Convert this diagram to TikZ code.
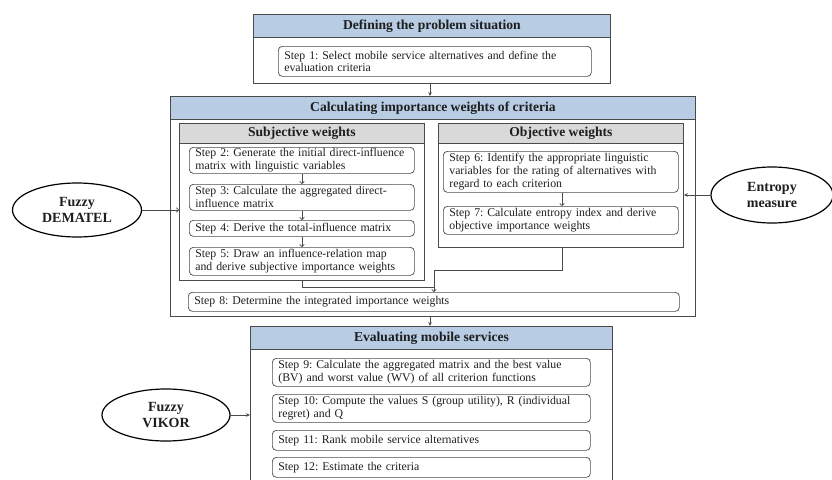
\documentclass[tikz,border=0pt]{standalone}
\usepackage{fontspec}
\setmainfont{Liberation Serif}
\usetikzlibrary{arrows.meta,shapes.geometric}
\definecolor{lineg}{HTML}{4A4A4A}
\definecolor{hblue}{HTML}{B8CCE4}
\definecolor{hgray}{HTML}{D9D9D9}
\definecolor{txt}{HTML}{1E1E1E}
\tikzset{
  box/.style={draw=lineg, line width=0.9pt, anchor=north west, inner sep=0pt},
  mainhead/.style={box, fill=hblue, text=txt, font=\fontsize{13.6}{15}\selectfont\bfseries},
  subhead/.style={box, fill=hgray, text=txt, font=\fontsize{13.6}{15}\selectfont\bfseries},
  stepbox/.style={draw=lineg, line width=0.7pt, rounded corners=4pt, anchor=north west,
     inner xsep=6pt, inner ysep=0pt, align=left, text=txt, font=\fontsize{11.8}{12.8}\selectfont},
  method/.style={draw=black, line width=1.2pt, ellipse, inner sep=0pt, align=center,
     text=txt, font=\fontsize{14}{16}\selectfont\bfseries},
  arr/.style={draw=lineg, line width=0.7pt, -{Stealth[length=4pt,width=3.5pt]}},
  oarr/.style={draw=lineg, line width=0.7pt, -{To[length=3pt,width=5pt]}},
  link/.style={draw=lineg, line width=0.7pt},
}
\begin{document}
\frenchspacing
\begin{tikzpicture}[x=1pt,y=-1pt]
\useasboundingbox (0,0) rectangle (832,479);

% Defining the problem situation
\node[box, minimum width=357, minimum height=69] (def) at (253,14) {};
\node[mainhead, minimum width=357, minimum height=23] (defh) at (253,14) {Defining the problem situation};
\node[stepbox, text width=301, minimum height=30] (s1) at (278,46)
  {Step 1: Select mobile service alternatives and define the\\evaluation criteria};

% Calculating importance weights
\node[box, minimum width=525, minimum height=220] (calc) at (170,96) {};
\node[mainhead, minimum width=525, minimum height=23] (calch) at (170,96) {Calculating importance weights of criteria};

\node[box, minimum width=245, minimum height=157] (subj) at (179,123) {};
\node[subhead, minimum width=245, minimum height=20] (subjh) at (179,123) {Subjective weights};
\node[stepbox, text width=213, minimum height=26] (s2) at (189,147)
  {\mbox{Step 2: Generate the initial direct-influence}\\matrix with linguistic variables};
\node[stepbox, text width=213, minimum height=26] (s3) at (189,184)
  {\mbox{Step 3: Calculate the aggregated direct-}\\influence matrix};
\node[stepbox, text width=213, minimum height=16] (s4) at (189,220)
  {\mbox{Step 4: Derive the total-influence matrix}};
\node[stepbox, text width=213, minimum height=28] (s5) at (189,247)
  {\mbox{Step 5: Draw an influence-relation map}\\and derive subjective importance weights};

\node[box, minimum width=245, minimum height=124] (obj) at (438,123) {};
\node[subhead, minimum width=245, minimum height=20] (objh) at (438,123) {Objective weights};
\node[stepbox, text width=223, minimum height=41] (s6) at (443,151)
  {Step 6: Identify the appropriate linguistic\\variables for the rating of alternatives with\\regard to each criterion};
\node[stepbox, text width=223, minimum height=28] (s7) at (443,206)
  {Step 7: Calculate entropy index and derive\\objective importance weights};

\node[stepbox, text width=479, minimum height=19] (s8) at (188,292)
  {Step 8: Determine the integrated importance weights};

% Evaluating mobile services
\node[box, minimum width=362, minimum height=180] (eval) at (250,326) {};
\node[mainhead, minimum width=362, minimum height=23] (evalh) at (250,326) {Evaluating mobile services};
\node[stepbox, text width=306, minimum height=28] (s9) at (272,358)
  {Step 9: Calculate the aggregated matrix and the best value\\(BV) and worst value (WV) of all criterion functions};
\node[stepbox, text width=306, minimum height=28] (s10) at (272,394)
  {Step 10: Compute the values S (group utility), R (individual\\regret) and Q};
\node[stepbox, text width=306, minimum height=20] (s11) at (272,430)
  {Step 11: Rank mobile service alternatives};
\node[stepbox, text width=306, minimum height=20] (s12) at (272,457)
  {Step 12: Estimate the criteria};

% Methods
\node[method, minimum width=129, minimum height=54] (dem) at (77,210) {Fuzzy\\DEMATEL};
\node[method, minimum width=122, minimum height=56] (ent) at (772,195) {Entropy\\measure};
\node[method, minimum width=128, minimum height=52] (vik) at (166,415) {Fuzzy\\VIKOR};

% Connectors
\draw[arr] (def.south -| 430,0) -- (calc.north -| 430,0);
\draw[arr] (calc.south -| 430,0) -- (eval.north -| 430,0);

\draw[oarr] (s2.south -| 302,0) -- (s3.north -| 302,0);
\draw[oarr] (s3.south -| 302,0) -- (s4.north -| 302,0);
\draw[oarr] (s4.south -| 302,0) -- (s5.north -| 302,0);
\draw[oarr] (s6.south -| 562,0) -- (s7.north -| 562,0);

\coordinate (jo) at (562,270);
\coordinate (jm) at (434,270);
\coordinate (js) at (302,287);
\coordinate (jt) at (434,287);
\draw[link] (obj.south -| jo) -- (jo) -- (jm);
\draw[oarr] (jm) -- (s8.north -| jm);
\draw[link] (subj.south -| js) -- (js) -- (jt);

\draw[oarr] (dem.east) -- (subj.west |- dem.east);
\draw[arr] (ent.west) -- (obj.east |- ent.west);
\draw[arr] (vik.east) -- (eval.west |- vik.east);
\end{tikzpicture}
\end{document}
